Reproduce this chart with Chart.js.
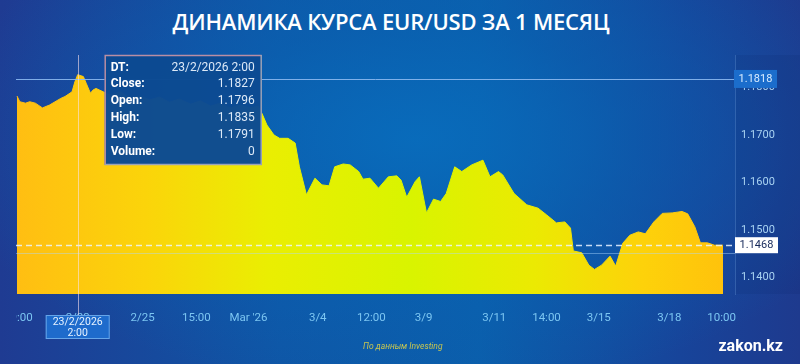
<!DOCTYPE html>
<html>
<head>
<meta charset="utf-8">
<script src="https://cdn.jsdelivr.net/npm/chart.js@4"></script>
<style>
  html, body { margin: 0; padding: 0; }
  body {
    width: 800px; height: 364px; overflow: hidden; position: relative;
    background:
      radial-gradient(ellipse 60% 70% at 52% 38%, rgba(8,110,190,0.85) 0%, rgba(8,100,180,0.55) 45%, rgba(8,90,170,0) 100%),
      linear-gradient(90deg, #1f3b92 0%, #0f56a6 35%, #0b5eab 60%, #17449a 85%, #1e3a8e 100%);
    font-family: Roboto, "Noto Sans", sans-serif;
  }
  #title {
    position: absolute; left: 0; top: 6px; width: 782px; text-align: center;
    color: #fff; font: 600 22px "Open Sans", sans-serif; letter-spacing: -0.2px;
  }
  #wrap { position: absolute; left: 16px; top: 45px; width: 784px; height: 300px; }
  #src {
    position: absolute; left: 363px; top: 341px; color: #c8c650;
    font: italic 8.5px Roboto, sans-serif;
  }
  #brand {
    position: absolute; right: 17px; top: 336px; color: #fff;
    font: bold 16px Roboto, sans-serif;
  }
</style>
</head>
<body>
<div id="title">ДИНАМИКА КУРСА EUR/USD ЗА 1 МЕСЯЦ</div>
<div id="wrap"><canvas id="chart" width="784" height="300"></canvas></div>
<div id="src">По данным Investing</div>
<div id="brand">zakon.kz</div>
<script>
// ─── EUR/USD, 1 month (hourly close, weekends squeezed out) ─────────────────

// x = trading hour since the first candle on screen
const hours = [
  0, 2, 6, 9, 13, 18, 23, 31, 34, 39,
  41, 43, 47, 49, 52, 54, 56, 61, 66, 73,
  80, 87, 94, 101, 108, 115, 123, 130, 137, 144,
  151, 158, 165, 171, 174, 177, 182, 186, 192, 197,
  200, 205, 211, 216, 221, 225, 231, 236, 242, 245,
  250, 256, 263, 269, 272, 276, 282, 285, 290, 295,
  300, 304, 310, 315, 322, 330, 335, 341, 344, 352,
  361, 369, 375, 382, 388, 392, 394, 400, 405, 409,
  414, 420, 424, 429, 434, 440, 445, 451, 457, 464,
  471, 475, 480, 484, 489, 494, 500
];
const closes = [
  1.1782, 1.1770, 1.1767, 1.1770, 1.1767, 1.1757, 1.1763, 1.1777, 1.1781, 1.1791,
  1.1812, 1.1827, 1.1823, 1.1809, 1.1788, 1.1795, 1.1798, 1.1791, 1.1784, 1.1791,
  1.1778, 1.1782, 1.1774, 1.1780, 1.1769, 1.1776, 1.1765, 1.1772, 1.1761, 1.1767,
  1.1757, 1.1763, 1.1757, 1.1761, 1.1742, 1.1721, 1.1700, 1.1693, 1.1693, 1.1683,
  1.1633, 1.1574, 1.1609, 1.1595, 1.1593, 1.1633, 1.1639, 1.1637, 1.1623, 1.1607,
  1.1609, 1.1588, 1.1612, 1.1614, 1.1605, 1.1569, 1.1602, 1.1612, 1.1536, 1.1565,
  1.1560, 1.1577, 1.1633, 1.1623, 1.1637, 1.1647, 1.1612, 1.1623, 1.1616, 1.1577,
  1.1553, 1.1546, 1.1532, 1.1515, 1.1517, 1.1504, 1.1456, 1.1452, 1.1426, 1.1417,
  1.1426, 1.1445, 1.1424, 1.1472, 1.1489, 1.1496, 1.1492, 1.1517, 1.1535, 1.1536,
  1.1539, 1.1534, 1.1507, 1.1473, 1.1473, 1.1468, 1.1468
];

const tickHours  = [1, 43, 89, 127, 164, 213, 251, 288, 338, 375, 412, 462, 499];
const tickLabels = ["19:00", "2/23", "2/25", "15:00", "Mar '26", "3/4", "12:00", "3/9", "3/11", "14:00", "3/15", "3/18", "10:00"];
const priceTicks = [1.14, 1.15, 1.16, 1.17, 1.18];

// crosshair / tooltip state
const crossHour  = 43;
const crossPrice = 1.1818;
const crossDate  = ["23/2/2026", "2:00"];
const tipLabels  = ["DT:", "Close:", "Open:", "High:", "Low:", "Volume:"];
const tipValues  = ["23/2/2026 2:00", "1.1827", "1.1796", "1.1835", "1.1791", "0"];
const lastPrice  = closes[closes.length - 1];
const refPrice   = 1.1452;

function fillGradient(ctx, area) {
  const g = ctx.createLinearGradient(area.left, 0, area.right, 0);
  g.addColorStop(0.00, "#ffbe12");
  g.addColorStop(0.18, "#fbd40a");
  g.addColorStop(0.35, "#eaee02");
  g.addColorStop(0.55, "#d9f400");
  g.addColorStop(0.72, "#ebea02");
  g.addColorStop(0.87, "#fdd20a");
  g.addColorStop(1.00, "#ffc00c");
  return g;
}

function hline(ctx, x1, x2, y) {
  ctx.beginPath(); ctx.moveTo(x1, y); ctx.lineTo(x2, y); ctx.stroke();
}

const overlay = {
  id: "overlay",
  afterDatasetsDraw(chart) {
    const { ctx, chartArea: a, scales: { x, y } } = chart;
    ctx.save();
    ctx.lineWidth = 1;
    ctx.strokeStyle = "rgba(170,215,255,0.45)";
    hline(ctx, a.left, a.right, Math.round(y.getPixelForValue(refPrice)) + 0.5);

    ctx.setLineDash([6, 4]);
    ctx.lineWidth = 1.3;
    ctx.strokeStyle = "rgba(235,245,255,0.85)";
    hline(ctx, a.left, a.right, Math.round(y.getPixelForValue(lastPrice)) + 0.5);
    ctx.setLineDash([]);

    ctx.lineWidth = 1;
    ctx.strokeStyle = "rgba(140,185,240,0.9)";
    hline(ctx, a.left, a.right, Math.round(y.getPixelForValue(crossPrice)) + 0.5);

    const cx = Math.round(x.getPixelForValue(crossHour)) + 0.5;
    ctx.strokeStyle = "rgba(250,225,235,0.6)";
    ctx.beginPath(); ctx.moveTo(cx, a.top); ctx.lineTo(cx, a.bottom + 21); ctx.stroke();
    ctx.restore();
  },
  afterDraw(chart) {
    const { ctx, chartArea: a, scales: { x, y } } = chart;
    ctx.save();
    ctx.textBaseline = "middle";

    // crosshair price box
    let py = y.getPixelForValue(crossPrice);
    ctx.fillStyle = "#1b6dcc";
    ctx.fillRect(a.right - 1, py - 9, 43, 18);
    ctx.fillStyle = "#d8ecff";
    ctx.font = "11px Roboto";
    ctx.textAlign = "center";
    ctx.fillText(crossPrice.toFixed(4), a.right + 20.5, py + 0.5);

    // last price box
    py = y.getPixelForValue(lastPrice);
    ctx.fillStyle = "#ffffff";
    ctx.fillRect(a.right, py - 8, 43, 16);
    ctx.fillStyle = "#16295a";
    ctx.fillText(lastPrice.toFixed(4), a.right + 21.5, py + 0.5);

    // date box under crosshair
    const cx = x.getPixelForValue(crossHour);
    ctx.fillStyle = "#1e6bcc";
    ctx.fillRect(cx - 32, a.bottom + 21, 64, 24);
    ctx.strokeStyle = "rgba(120,180,240,0.8)";
    ctx.strokeRect(cx - 31.5, a.bottom + 21.5, 63, 23);
    ctx.fillStyle = "#e6f2ff";
    ctx.font = "10.5px Roboto";
    ctx.fillText(crossDate[0], cx, a.bottom + 28);
    ctx.fillText(crossDate[1], cx, a.bottom + 39.5);

    // tooltip
    const tx = cx + 27, ty = a.top, tw = 157, th = 110;
    ctx.fillStyle = "rgba(12,74,146,0.98)";
    ctx.fillRect(tx, ty, tw, th);
    ctx.lineWidth = 1.5;
    ctx.strokeStyle = "#b98ea4";
    ctx.beginPath();
    ctx.moveTo(tx + 0.5, ty + th); ctx.lineTo(tx + 0.5, ty + 0.5); ctx.lineTo(tx + tw, ty + 0.5);
    ctx.stroke();
    ctx.strokeStyle = "#9aa3b8";
    ctx.beginPath();
    ctx.moveTo(tx + tw - 0.5, ty); ctx.lineTo(tx + tw - 0.5, ty + th - 0.5); ctx.lineTo(tx, ty + th - 0.5);
    ctx.stroke();
    tipLabels.forEach((lab, i) => {
      const ry = ty + 12.5 + i * 16.8;
      ctx.textAlign = "left";
      ctx.fillStyle = "#ffffff";
      ctx.font = "bold 12px Roboto";
      ctx.fillText(lab, tx + 6, ry);
      ctx.textAlign = "right";
      ctx.fillStyle = "#dce9f7";
      ctx.font = "12px Roboto";
      ctx.fillText(tipValues[i], tx + tw - 7, ry);
    });
    ctx.restore();
  }
};

new Chart(document.getElementById("chart"), {
  type: "line",
  data: {
    datasets: [{
      data: hours.map((h, i) => ({ x: h, y: closes[i] })),
      fill: "start",
      borderWidth: 1,
      borderColor: ctx => ctx.chart.chartArea ? fillGradient(ctx.chart.ctx, ctx.chart.chartArea) : "#f0e000",
      backgroundColor: ctx => ctx.chart.chartArea ? fillGradient(ctx.chart.ctx, ctx.chart.chartArea) : "#f0e000",
      pointRadius: 0,
      tension: 0,
    }],
  },
  options: {
    responsive: false,
    animation: false,
    layout: { padding: { top: 10, left: 0, right: 0, bottom: 0 } },
    plugins: { legend: { display: false }, tooltip: { enabled: false } },
    scales: {
      x: {
        type: "linear",
        min: -0.7,
        max: 508.5,
        grid: { display: false, drawTicks: false },
        border: { display: false },
        afterBuildTicks: s => { s.ticks = tickHours.map(v => ({ value: v })); },
        afterFit: s => { s.height = 51; s.paddingLeft = 0; s.paddingRight = 0; },
        ticks: {
          autoSkip: false,
          maxRotation: 0,
          padding: 17,
          color: "#7cc6f2",
          font: { family: "Roboto", size: 11.5 },
          callback: v => tickLabels[tickHours.indexOf(v)] ?? "",
        },
      },
      y: {
        position: "right",
        min: 1.13653,
        max: 1.18684,
        backgroundColor: "rgba(10,35,100,0.12)",
        grid: { display: false, drawTicks: false },
        border: { display: true, color: "rgba(120,170,230,0.3)" },
        afterBuildTicks: s => { s.ticks = priceTicks.map(v => ({ value: v })); },
        afterFit: s => { s.width = 65; s.paddingTop = 0; s.paddingBottom = 0; },
        ticks: {
          padding: 6,
          color: "#a9d3f2",
          font: { family: "Roboto", size: 11 },
          callback: v => v.toFixed(4),
        },
      },
    },
  },
  plugins: [overlay],
});
</script>
</body>
</html>
